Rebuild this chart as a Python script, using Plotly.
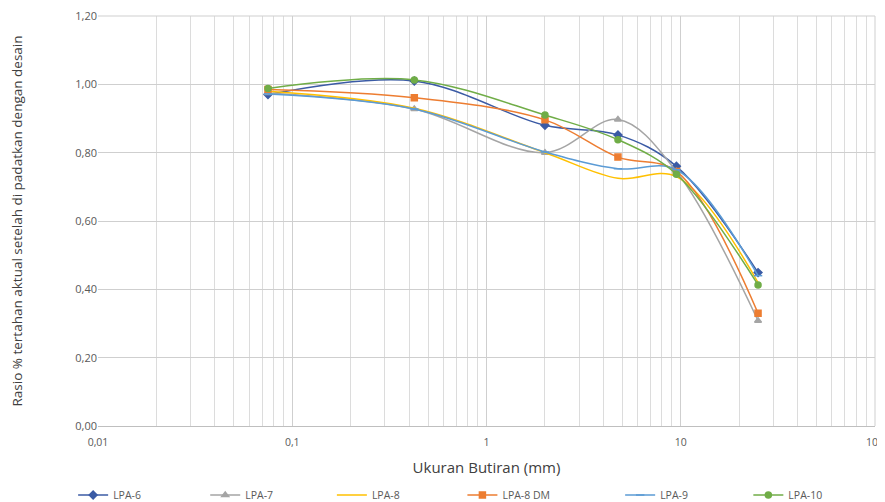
import plotly.graph_objects as go

sizes = [0.075, 0.425, 2, 4.75, 9.5, 25]
lpa6 = [0.970, 1.010, 0.880, 0.852, 0.760, 0.449]
lpa7 = [0.975, 0.928, 0.800, 0.897, 0.745, 0.308]
lpa8 = [0.980, 0.930, 0.800, 0.725, 0.730, 0.420]
lpa8dm = [0.985, 0.961, 0.896, 0.787, 0.745, 0.330]
lpa9 = [0.972, 0.928, 0.802, 0.753, 0.750, 0.440]
lpa10 = [0.988, 1.013, 0.910, 0.838, 0.737, 0.413]

series = [
    ("LPA-6", lpa6, "#3B5BA5", "diamond", 6),
    ("LPA-7", lpa7, "#A5A5A5", "triangle-up", 6),
    ("LPA-8", lpa8, "#FFC000", None, 0),
    ("LPA-8 DM", lpa8dm, "#ED7D31", "square", 6),
    ("LPA-9", lpa9, "#5B9BD5", "line-ew", 6),
    ("LPA-10", lpa10, "#70AD47", "circle", 6),
]
legend_x = [-0.032, 0.138, 0.301, 0.469, 0.672, 0.837]

W, H = 877, 494
ML, MR, MT, MB = 90, 10, 8, 76
plot_h = H - MT - MB

fig = go.Figure()
legend_layouts = {}
for i, (name, vals, col, sym, sz) in enumerate(series):
    lg = "legend" if i == 0 else f"legend{i + 1}"
    kw = dict(x=sizes, y=vals, name=name, legend=lg,
              line=dict(color=col, width=1.5, shape="spline", smoothing=1))
    if sym is None:
        fig.add_trace(go.Scatter(mode="lines", **kw))
    else:
        fig.add_trace(go.Scatter(mode="lines+markers",
                                 marker=dict(symbol=sym, size=sz, color=col,
                                             line=dict(color=col, width=1.5)), **kw))
    legend_layouts[lg] = dict(orientation="h", x=legend_x[i], xanchor="left",
                              y=-69 / plot_h, yanchor="middle", itemwidth=30,
                              font=dict(size=10.5, color="#595959"),
                              bgcolor="rgba(0,0,0,0)")

minor_vals = [k * 10 ** e for e in range(-2, 2) for k in range(2, 10)]
x_ticks = [0.01, 0.1, 1, 10, 100]
x_text = ["0,01", "0,1", "1", "10", "100"]

fig.update_layout(
    width=W, height=H,
    margin=dict(l=ML, r=MR, t=MT, b=MB, autoexpand=False),
    paper_bgcolor="white", plot_bgcolor="white",
    separators=",.",
    font=dict(family="Open Sans", color="#595959", size=11),
    showlegend=True,
    xaxis=dict(type="log", range=[-2, 2], tickvals=x_ticks, ticktext=x_text,
               showgrid=True, gridcolor="#CFCFCF", gridwidth=1,
               minor=dict(tickvals=minor_vals, showgrid=True, gridcolor="#DCDCDC", gridwidth=1, ticks=""),
               showline=True, linecolor="#BFBFBF", ticks="", zeroline=False,
               tickfont=dict(size=10.5), ticklabelstandoff=6, ticklabeloverflow="allow",
               title=dict(text="Ukuran Butiran (mm)", font=dict(size=15, color="#404040"), standoff=14)),
    yaxis=dict(range=[0, 1.2], dtick=0.2, tickformat=".2f",
               showgrid=True, gridcolor="#CFCFCF", gridwidth=1,
               showline=False, ticks="", zeroline=False,
               tickfont=dict(size=11), ticklabeloverflow="allow",
               title=dict(text="Rasio % tertahan aktual setelah di padatkan dengan desain",
                          font=dict(size=13.5, color="#404040"), standoff=50)),
    **legend_layouts,
)
fig.add_shape(type="line", xref="paper", yref="paper", x0=0, x1=1, y0=1, y1=1,
              line=dict(color="#CFCFCF", width=1))
fig.add_shape(type="line", xref="paper", yref="paper", x0=1, x1=1, y0=0, y1=1,
              line=dict(color="#CFCFCF", width=1))

fig.write_html("out.html")
